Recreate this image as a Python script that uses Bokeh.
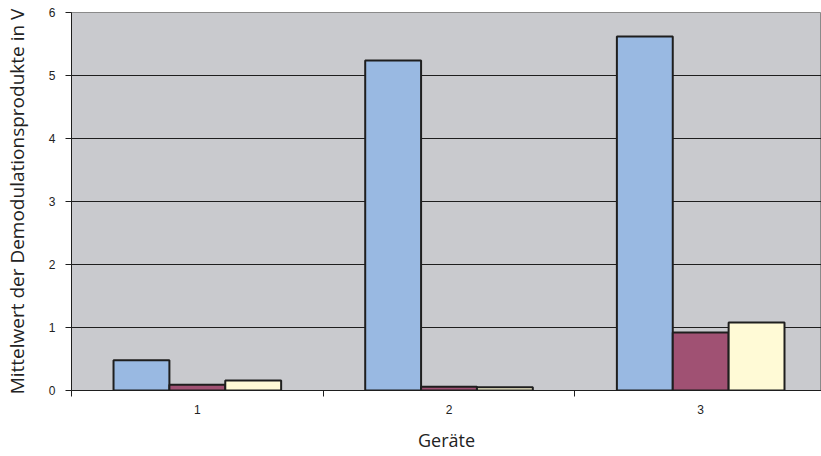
from bokeh.plotting import figure
from bokeh.models import FixedTicker, ColumnDataSource, Range1d
from bokeh.embed import file_html
from bokeh.resources import INLINE

geraete = [1, 2, 3]
tick_labels = ["1", "2", "3"]
serie_a = [0.48, 5.24, 5.62]
serie_b = [0.09, 0.06, 0.92]
serie_c = [0.16, 0.05, 1.08]
y_ticks = [0, 1, 2, 3, 4, 5, 6]

p = figure(width=821, height=456, output_backend="svg", toolbar_location=None,
           x_range=Range1d(0.5, 3.48), y_range=Range1d(0, 6),
           min_border_left=70, min_border_right=0, min_border_top=12, min_border_bottom=66)
p.background_fill_color = "#C9CACE"
p.border_fill_color = "white"
p.outline_line_color = "#8a8a8a"
p.outline_line_width = 1

bw = 0.222
colors = ["#99B9E2", "#A05173", "#FFFAD6"]
for off, vals, c in zip([-bw, 0, bw], [serie_a, serie_b, serie_c], colors):
    src = ColumnDataSource(dict(x=[g + off for g in geraete], top=vals))
    p.vbar(x="x", top="top", bottom=0, width=bw, source=src, fill_color=c,
           line_color="#1e1e1e", line_width=2)

p.xgrid.visible = False
p.ygrid.ticker = FixedTicker(ticks=y_ticks)
p.ygrid.grid_line_color = "#1e1e1e"
p.ygrid.grid_line_width = 1
p.ygrid.level = "underlay"

p.xaxis.ticker = FixedTicker(ticks=geraete, minor_ticks=[0.5, 1.5, 2.5])
p.xaxis.major_label_overrides = {g: t for g, t in zip(geraete, tick_labels)}
p.xaxis.major_tick_out = 0
p.xaxis.major_tick_in = 0
p.xaxis.minor_tick_out = 6
p.xaxis.minor_tick_in = 0
p.xaxis.minor_tick_line_color = "#1e1e1e"
p.xaxis.axis_line_color = "#1e1e1e"
p.xaxis.major_label_standoff = 8
p.xaxis.major_label_text_font = "Liberation Sans"
p.xaxis.major_label_text_font_size = "12px"
p.xaxis.major_label_text_color = "#222222"
p.xaxis.axis_label = "Geräte"
p.xaxis.axis_label_text_font = "Open Sans"
p.xaxis.axis_label_text_font_style = "normal"
p.xaxis.axis_label_text_font_size = "18px"
p.xaxis.axis_label_text_color = "#222222"
p.xaxis.axis_label_standoff = 11

p.yaxis.ticker = FixedTicker(ticks=y_ticks)
p.yaxis.minor_tick_out = 0
p.yaxis.minor_tick_in = 0
p.yaxis.major_tick_out = 6
p.yaxis.major_tick_in = 0
p.yaxis.major_tick_line_color = "#1e1e1e"
p.yaxis.axis_line_color = "#1e1e1e"
p.yaxis.major_label_standoff = 10
p.yaxis.major_label_text_font = "Liberation Sans"
p.yaxis.major_label_text_font_size = "12px"
p.yaxis.major_label_text_color = "#222222"
p.yaxis.axis_label = "Mittelwert der Demodulationsprodukte in V"
p.yaxis.axis_label_text_font = "Open Sans"
p.yaxis.axis_label_text_font_style = "normal"
p.yaxis.axis_label_text_font_size = "19px"
p.yaxis.axis_label_text_color = "#222222"
p.yaxis.axis_label_standoff = 16

open("out.html", "w").write(file_html(p, INLINE))
